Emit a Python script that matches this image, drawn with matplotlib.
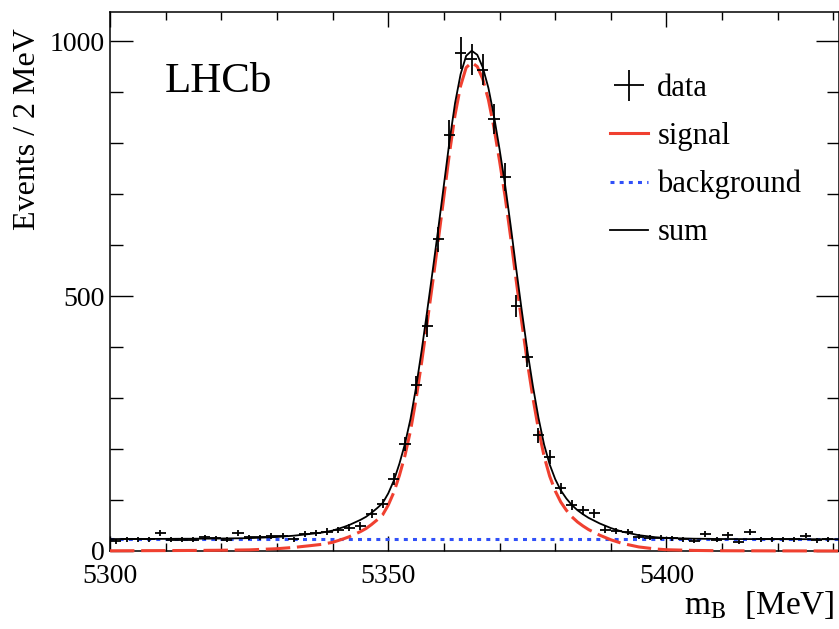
import matplotlib
matplotlib.use("Agg")
import matplotlib.pyplot as plt
import numpy as np
from matplotlib.lines import Line2D
from matplotlib.ticker import MultipleLocator

plt.rcParams['font.family'] = ['Liberation Serif', 'DejaVu Serif']
plt.rcParams['mathtext.fontset'] = 'stix'

BLACK = '#000000'
RED = '#f04030'
BLUE = '#3050f8'

# data histogram, 2 MeV bins starting at 5300
bin_start = 5300
bin_width = 2
counts = [19, 23, 23, 23, 36, 22, 22, 22, 27, 25, 22, 35, 27, 27, 29, 29,
          23, 33, 36, 38, 41, 46, 49, 73, 93, 142, 210, 325, 441, 611, 816,
          977, 964, 944, 847, 733, 480, 381, 227, 185, 123, 90, 80, 74, 42,
          39, 37, 28, 26, 26, 25, 23, 20, 34, 22, 31, 18, 37, 23, 23, 23, 23,
          30, 21, 23]

# fitted components
background_level = 23
sig_mass = [5300, 5305, 5310, 5315, 5320, 5325, 5330, 5333, 5336, 5338, 5340,
            5342, 5343, 5344, 5345, 5346, 5347, 5348, 5349, 5350, 5351, 5352,
            5353, 5354, 5355, 5356, 5357, 5358, 5359, 5360, 5361, 5362, 5363,
            5364, 5365, 5366, 5367, 5368, 5369, 5370, 5371, 5372, 5373, 5374,
            5375, 5376, 5377, 5378, 5379, 5380, 5381, 5382, 5383, 5384, 5385,
            5386, 5388, 5390, 5392, 5395, 5398, 5400, 5405, 5410, 5420, 5431]
sig_value = [0.4, 0.6, 0.8, 1.1, 1.5, 2.2, 4.5, 7, 10.5, 13, 17,
             24, 28, 33, 38, 44, 52, 61, 71, 90, 115, 148,
             187, 236, 298, 370, 448, 528, 610, 695, 780, 855, 912,
             948, 958, 950, 925, 885, 830, 765, 695, 615, 530, 448,
             370, 300, 238, 186, 147, 118, 96, 80, 67, 57, 49,
             42, 31, 22, 15, 8, 4, 2.5, 1.1, 0.5, 0.2, 0.1]

xlim = (5300, 5431)
ylim = (0, 1057)

centers = bin_start + bin_width / 2 + bin_width * np.arange(len(counts))
counts = np.array(counts, dtype=float)
sig_mass = np.array(sig_mass, dtype=float)
sig_value = np.array(sig_value, dtype=float)
bkg_value = np.full_like(sig_value, background_level)
sum_value = sig_value + bkg_value

fig = plt.figure(figsize=(8.39, 6.29), dpi=100)
ax = fig.add_axes([110 / 839, 1 - 551 / 629, 729 / 839, 539 / 629])

bkg_line, = ax.plot(sig_mass, bkg_value, color=BLUE, linewidth=2.2,
                    dashes=(1.3, 1.7), dash_capstyle='butt', zorder=2)
ax.plot(sig_mass, sig_value, color=RED, linewidth=2.2, dashes=(8, 2.2),
        zorder=3, clip_on=False)
sum_line, = ax.plot(sig_mass, sum_value, color=BLACK, linewidth=1.3, zorder=4)
data = ax.errorbar(centers, counts, xerr=bin_width / 2, yerr=np.sqrt(counts),
                   fmt='none', ecolor=BLACK, elinewidth=1.3, capsize=0,
                   zorder=5)

ax.set_xlim(*xlim)
ax.set_ylim(*ylim)

ax.xaxis.set_major_locator(MultipleLocator(50))
ax.xaxis.set_minor_locator(MultipleLocator(10))
ax.yaxis.set_major_locator(MultipleLocator(500))
ax.yaxis.set_minor_locator(MultipleLocator(100))

ax.tick_params(axis='both', which='both', direction='in', top=True, right=True,
               width=1.0, color=BLACK)
ax.tick_params(axis='x', which='major', length=11, labelsize=20, pad=9.5)
ax.tick_params(axis='x', which='minor', length=6)
ax.tick_params(axis='y', which='major', length=16.5, labelsize=20, pad=4)
ax.tick_params(axis='y', which='minor', length=9)
for spine in ax.spines.values():
    spine.set_linewidth(1.1)

fig.text(28 / 839, 1 - 129 / 629, 'Events / 2 MeV', rotation=90,
         ha='center', va='center', fontsize=23)
fig.text(0.995, 1 - 614 / 629, r'm$_{\rm B}$  [MeV]', ha='right',
         va='baseline', fontsize=24)
fig.text(165 / 839, 1 - 92 / 629, 'LHCb', ha='left', va='baseline',
         fontsize=31)

# legend shows the signal as a short solid stroke
signal_handle = Line2D([], [], color=RED, linewidth=2.2)
ax.legend([data, signal_handle, bkg_line, sum_line],
          ['data', 'signal', 'background', 'sum'], loc='upper left',
          bbox_to_anchor=(610 / 839, 1 - 74 / 629),
          bbox_transform=fig.transFigure, frameon=False, fontsize=22,
          borderpad=0, borderaxespad=0, handlelength=1.25,
          handletextpad=0.3, labelspacing=0.62)

fig.savefig('out.png', dpi=100)
plt.close(fig)
